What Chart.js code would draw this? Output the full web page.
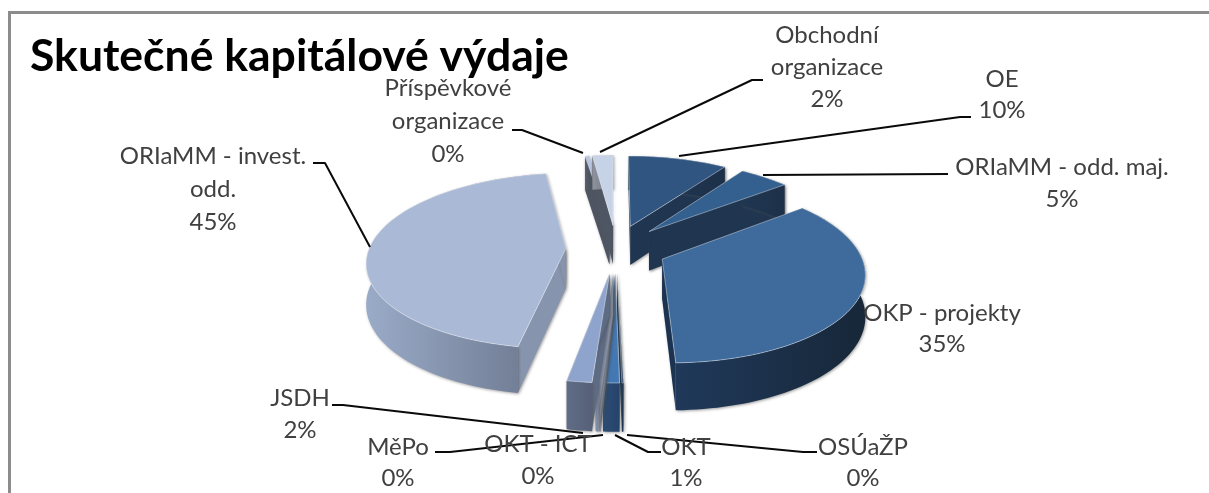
<!DOCTYPE html>
<html>
<head>
<meta charset="utf-8">
<style>html,body{margin:0;padding:0;background:#fff}canvas{display:block}</style>
<script src="https://cdn.jsdelivr.net/npm/chart.js@4/dist/chart.umd.js"></script>
</head>
<body>
<canvas id="c" width="1209" height="493"></canvas>
<script>
const chartTitle = "Skutečné kapitálové výdaje";
const categories = ["OE","ORIaMM - odd. maj.","OKP - projekty","OSÚaŽP","OKT","OKT - ICT","MěPo","JSDH","ORIaMM - invest. odd.","Příspěvkové organizace","Obchodní organizace"];
const shares = [9.5,4.8,35.3,0.1,1.1,0.1,0.2,1.7,44.8,0.4,2.0];
const topColors = ["#2f5580","#34608f","#3e6a9c","#1f3a5a","#4478b2","#a8b8d4","#a3b3d0","#8ea4cc","#a9b9d6","#b5c5e0","#c6d2e5"];
const wallLight = ["#223a58","#203751","#20395a","#1f3a5a","#2d4d75","#8b97ad","#8794ad","#606d86","#9aabc8","#566070","#8d929c"];
const wallDark = ["#1d3049","#1d3049","#172739","#1a3049","#26436a","#7b879d","#77849d","#566078","#6c778e","#4c5461","#6f747e"];
const cutColors = ["#1f3550","#1f3550","#1b3350","#1a3049","#2a4a70","#8a96ac","#8a96ac","#5d6b85","#8794ad","#4f5663","#4f5663"];
const labelLines = [["OE"],["ORIaMM - odd. maj."],["OKP - projekty"],["OSÚaŽP"],["OKT"],["OKT - ICT"],["MěPo"],["JSDH"],["ORIaMM - invest.","odd."],["Příspěvkové","organizace"],["Obchodní","organizace"]];

// View model of the tilted pie (all relative to the radius Chart.js computes)
const view = {sx:1.19, sy:0.521, persp:0.14, explodeX:0.255, explodeY:0.28, depth:0.242};

class Arc3D extends Chart.ArcElement {
  static id = 'arc3d';
  draw(ctx){
    const i = this.$context.index, R = this.outerRadius, a0 = this.startAngle, a1 = this.endAngle;
    const mid = (a0+a1)/2, ex = view.explodeX*Math.cos(mid), ey = view.explodeY*Math.sin(mid);
    const cx = this.x, cy = this.y;
    const P = (u,v,low)=>{
      const x=u+ex, y=v+ey, w=1-view.persp*y;
      return [cx+view.sx*R*x/w, cy+view.sy*R*y/w+(low?view.depth*R/w:0)];
    };
    const n = Math.max(2, Math.ceil((a1-a0)/0.03));
    const rim = [];
    for(let k=0;k<=n;k++){const a=a0+(a1-a0)*k/n; rim.push([Math.cos(a),Math.sin(a)]);}
    const poly = pts=>{ctx.beginPath();pts.forEach((p,k)=>k?ctx.lineTo(p[0],p[1]):ctx.moveTo(p[0],p[1]));ctx.closePath();};
    const rimTop = rim.map(p=>P(p[0],p[1],false)), rimLow = rim.map(p=>P(p[0],p[1],true));
    const apexT = P(0,0,false), apexL = P(0,0,true);
    ctx.save();
    ctx.shadowColor='rgba(80,80,80,0.55)';ctx.shadowBlur=3;ctx.shadowOffsetX=1;ctx.shadowOffsetY=1;
    ctx.fillStyle=cutColors[i];
    poly([apexT,rimTop[0],rimLow[0],apexL]);ctx.fill();
    poly([apexT,rimTop[n],rimLow[n],apexL]);ctx.fill();
    const xs=rimTop.map(p=>p[0]), g=ctx.createLinearGradient(Math.min(...xs),0,Math.max(...xs)+0.01,0);
    g.addColorStop(0,wallLight[i]);g.addColorStop(1,wallDark[i]);
    ctx.fillStyle=g;
    poly(rimTop.concat(rimLow.slice().reverse()));ctx.fill();
    ctx.restore();
    ctx.fillStyle=this.options.backgroundColor;
    ctx.strokeStyle='rgba(255,255,255,0.4)';ctx.lineWidth=1;
    poly([apexT].concat(rimTop));ctx.fill();ctx.stroke();
  }
}
class Pie3D extends Chart.PieController {
  static id = 'pie3d';
  static defaults = {dataElementType:'arc3d'};
}
Chart.register(Arc3D, Pie3D);

const labelPlace = [[1002,79],[1062,167],[942,313],[863,447],[686,447],[538,444],[398,447],[300,398],[213,156],[448,88],[827,35]];
const labelStep = [31,32,31,31,31,32,31,32,33,33,32];
const leaders = [
 [[679,156],[960,117],[971,117]],
 [[763,175],[948,174]],
 null,
 [[627,435],[803,452],[817,452]],
 [[615,435],[648,452],[661,452]],
 null,
 [[603,435],[450,452],[435,452]],
 [[583,433],[343,405],[332,405]],
 [[370,247],[325,163],[313,163]],
 [[583,153],[522,130],[512,130]],
 [[600,152],[752,80],[763,80]]
];

const decor = {
  id:'decor',
  beforeDraw(chart){
    const c=chart.ctx;c.save();
    c.fillStyle='#fff';c.fillRect(0,0,chart.width,chart.height);
    c.fillStyle='#8c8c8c';
    c.fillRect(8,11,1201,3);c.fillRect(8,11,3,482);
    c.restore();
  },
  afterDatasetsDraw(chart){
    const c=chart.ctx;c.save();
    c.strokeStyle='#0a0a0a';c.lineWidth=2;c.lineJoin='round';
    leaders.forEach(l=>{ if(!l)return; c.beginPath(); l.forEach((p,k)=>k?c.lineTo(p[0],p[1]):c.moveTo(p[0],p[1])); c.stroke(); });
    c.fillStyle='#404040';c.font='24px Lato';c.textAlign='center';c.textBaseline='middle';
    categories.forEach((name,i)=>{
      const lines=labelLines[i].concat(Math.round(shares[i])+'%');
      lines.forEach((t,k)=>c.fillText(t,labelPlace[i][0],labelPlace[i][1]+k*labelStep[i]));
    });
    c.restore();
  }
};

new Chart(document.getElementById('c'),{
  type:'pie3d',
  data:{labels:categories,datasets:[{data:shares,backgroundColor:topColors,borderWidth:0,clip:false}]},
  options:{
    responsive:false,maintainAspectRatio:false,animation:false,
    layout:{padding:{left:30,right:7,bottom:79,top:0}},
    plugins:{
      legend:{display:false},tooltip:{enabled:false},
      title:{display:true,text:chartTitle,align:'start',color:'#000',font:{family:'Lato',weight:'bold',size:44.5},padding:{top:30,bottom:0}}
    }
  },
  plugins:[decor]
});
</script>
</body>
</html>
